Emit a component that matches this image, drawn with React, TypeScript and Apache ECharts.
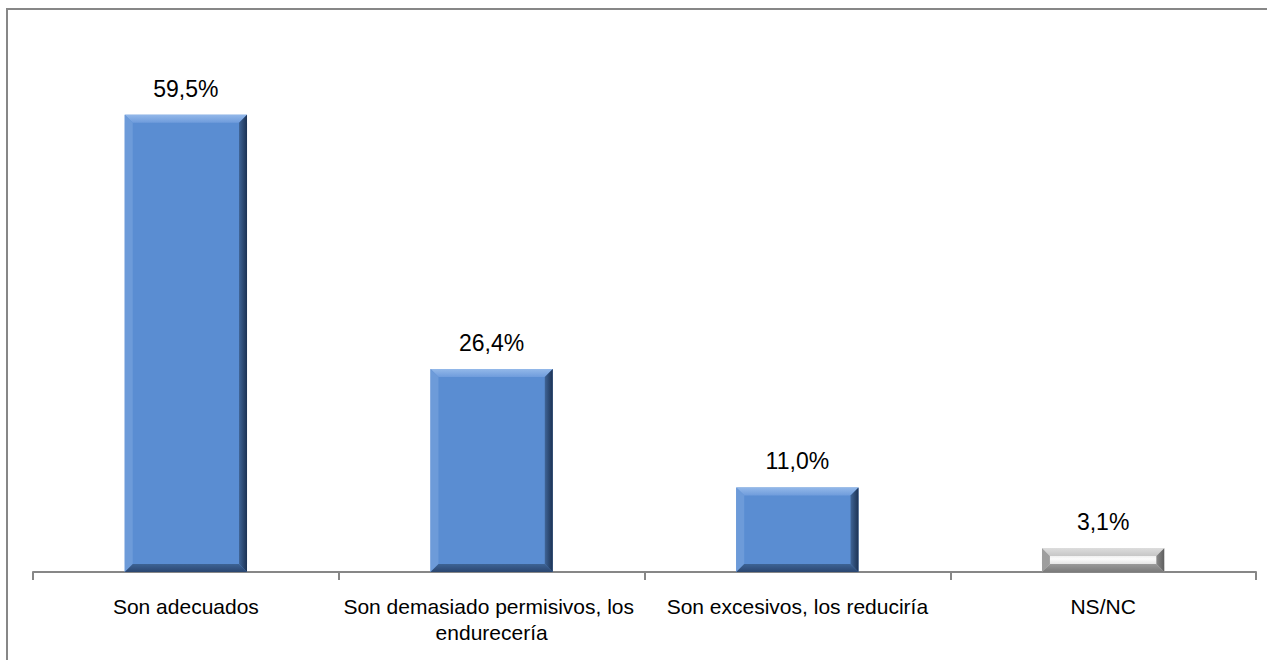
import React, { useEffect, useRef } from "react";
import * as echarts from "echarts";

const categories = [
  "Son adecuados",
  "Son demasiado permisivos, los endurecería",
  "Son excesivos, los reduciría",
  "NS/NC",
];
const values = [59.5, 26.4, 11.0, 3.1];
const isGray = [false, false, false, true];

const BLUE = {
  main: "#5a8dd2",
  topA: "#93b8e9",
  topB: "#6f9cdc",
  left: "#6d9bd9",
  rightA: "#3f6496",
  rightB: "#1c3253",
  bottomA: "#3d6395",
  bottomB: "#2a4670",
};
const GRAY = {
  main: "#d8d8d8",
  topA: "#dcdcdc",
  topB: "#c6c6c6",
  left: "#9e9e9e",
  rightA: "#8a8a8a",
  rightB: "#5e5e5e",
  bottomA: "#9a9a9a",
  bottomB: "#7a7a7a",
};

export default function App() {
  const ref = useRef<HTMLDivElement>(null);
  useEffect(() => {
    if (!ref.current) return;
    const chart = echarts.init(ref.current, null, { renderer: "svg" });
    const renderItem = (params: any, api: any) => {
      const idx = api.value(0);
      const v = api.value(1);
      const topPt = api.coord([idx, v]);
      const basePt = api.coord([idx, 0]);
      const band = api.size([1, 0])[0];
      const w = band * 0.4;
      const l = topPt[0] - w / 2;
      const r = topPt[0] + w / 2;
      const t = topPt[1];
      const bt = basePt[1];
      const b = Math.min(8, (bt - t) / 3);
      const c = isGray[params.dataIndex] ? GRAY : BLUE;
      const gray = isGray[params.dataIndex];
      const mainFill = gray
        ? {
            type: "linear", x: 0, y: 0, x2: 0, y2: 1,
            colorStops: [
              { offset: 0, color: "#cfcfcf" },
              { offset: 0.45, color: "#fbfbfb" },
              { offset: 1, color: "#c4c4c4" },
            ],
          }
        : c.main;
      const label = v.toFixed(1).replace(".", ",") + "%";
      return {
        type: "group",
        children: [
          { type: "rect", shape: { x: l, y: t, width: w, height: bt - t }, style: { fill: mainFill } },
          {
            type: "polygon",
            shape: { points: [[l, t], [r, t], [r - b, t + b], [l + b, t + b]] },
            style: {
              fill: { type: "linear", x: 0, y: 0, x2: 0, y2: 1, colorStops: [{ offset: 0, color: c.topA }, { offset: 1, color: c.topB }] },
            },
          },
          {
            type: "polygon",
            shape: { points: [[l, t], [l + b, t + b], [l + b, bt - b], [l, bt]] },
            style: { fill: c.left },
          },
          {
            type: "polygon",
            shape: { points: [[l, bt], [r, bt], [r - b, bt - b], [l + b, bt - b]] },
            style: {
              fill: { type: "linear", x: 0, y: 0, x2: 0, y2: 1, colorStops: [{ offset: 0, color: c.bottomA }, { offset: 1, color: c.bottomB }] },
            },
          },
          {
            type: "polygon",
            shape: { points: [[r, t], [r, bt], [r - b, bt - b], [r - b, t + b]] },
            style: {
              fill: { type: "linear", x: 0, y: 0, x2: 1, y2: 0, colorStops: [{ offset: 0, color: c.rightA }, { offset: 1, color: c.rightB }] },
            },
          },
          {
            type: "text",
            style: {
              text: label,
              x: topPt[0],
              y: t - 26,
              textAlign: "center",
              textVerticalAlign: "middle",
              fill: "#000000",
              font: "23px 'Liberation Sans', Arial, sans-serif",
            },
          },
        ],
      };
    };
    chart.setOption({
      animation: false,
      backgroundColor: "#ffffff",
      grid: { left: 33, right: 11, top: 34, bottom: 88, containLabel: false },
      xAxis: {
        type: "category",
        data: categories,
        axisLine: { show: true, lineStyle: { color: "#878787", width: 2 } },
        axisTick: { show: true, length: 8, lineStyle: { color: "#878787", width: 2 } },
        axisLabel: {
          interval: 0,
          color: "#000000",
          fontFamily: "'Liberation Sans', Arial, sans-serif",
          fontSize: 21,
          lineHeight: 26,
          margin: 21,
          width: 300,
          overflow: "break",
        },
      },
      yAxis: {
        type: "value",
        min: 0,
        max: 70,
        show: false,
        splitLine: { show: false },
      },
      graphic: [
        {
          type: "rect",
          shape: { x: 7, y: 9, width: 1400, height: 800 },
          style: { fill: "none", stroke: "#878787", lineWidth: 2 },
          silent: true,
        },
      ],
      series: [
        {
          type: "custom",
          renderItem,
          encode: { x: 0, y: 1 },
          data: values.map((v, i) => [i, v]),
        },
      ],
    });
    return () => chart.dispose();
  }, []);
  return (
    <div
      ref={ref}
      style={{ position: "fixed", left: 0, top: 0, width: 1267, height: 660 }}
    />
  );
}
